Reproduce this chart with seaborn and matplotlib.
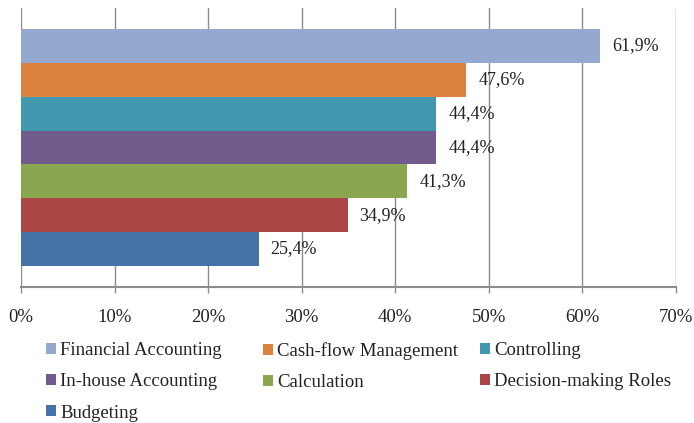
import matplotlib
matplotlib.use("Agg")
import matplotlib.pyplot as plt
from matplotlib.patches import Patch
import seaborn as sns
import pandas as pd

categories = ["Financial Accounting", "Cash-flow Management", "Controlling",
              "In-house Accounting", "Calculation", "Decision-making Roles", "Budgeting"]
values = [61.9, 47.6, 44.4, 44.4, 41.3, 34.9, 25.4]
value_labels = ["61,9%", "47,6%", "44,4%", "44,4%", "41,3%", "34,9%", "25,4%"]
colors = ["#95A9D0", "#DC843F", "#4298AF", "#715A8C", "#8AA64F", "#AA4746", "#4572A7"]
xticks = [0, 10, 20, 30, 40, 50, 60, 70]
xtick_labels = ["0%", "10%", "20%", "30%", "40%", "50%", "60%", "70%"]

sns.set_theme(style="white")
plt.rcParams['font.family'] = ['Liberation Serif', 'DejaVu Serif']

df = pd.DataFrame({"category": categories, "value": values})

fig = plt.figure(figsize=(6.94, 4.23), dpi=100)
ax = fig.add_axes([21/694, 1-287/423, (676-21)/694, (287-8)/423])

sns.barplot(data=df, x="value", y="category", hue="category", palette=colors,
            hue_order=categories, order=categories, width=1.0, legend=False,
            orient="h", ax=ax, saturation=1, linewidth=0, edgecolor="none")

for cont, lab in zip(ax.containers, value_labels):
    ax.bar_label(cont, labels=[lab], padding=8.5, fontsize=13, color="#222222")

ax.set_xlim(0, 70)
ax.set_ylim(6.5 + 0.62, -0.5 - 0.62)
ax.set_xticks(xticks)
ax.set_xticklabels(xtick_labels, fontsize=13.5, color="#222222")
ax.set_yticks([])
ax.set_xlabel("")
ax.set_ylabel("")
ax.grid(axis="x", color="#8c8c8c", linewidth=1.0)
ax.set_axisbelow(True)
for s in ["top", "right", "left"]:
    ax.spines[s].set_visible(False)
ax.spines["bottom"].set_color("#8c8c8c")
ax.spines["bottom"].set_linewidth(1.5)
ax.tick_params(axis="x", bottom=True, length=4, width=1, color="#8c8c8c", pad=12)

# legend in three columns, each positioned like the reference
columns = [[0, 3, 6], [1, 4], [2, 5]]
col_x = [46/694, 263/694, 480/694]
for ci, (idxs, x0) in enumerate(zip(columns, col_x)):
    handles = [Patch(facecolor=colors[i], edgecolor="none") for i in idxs]
    labels = [categories[i] for i in idxs]
    leg = fig.legend(handles, labels, loc="upper left", bbox_to_anchor=(x0, 1-342/423),
                     frameon=False, fontsize=13.5, handlelength=0.53, handleheight=0.53,
                     handletextpad=0.22, labelspacing=0.76, borderpad=0, borderaxespad=0)
    for t in leg.get_texts():
        t.set_color("#222222")

fig.savefig("out.png", dpi=100)
